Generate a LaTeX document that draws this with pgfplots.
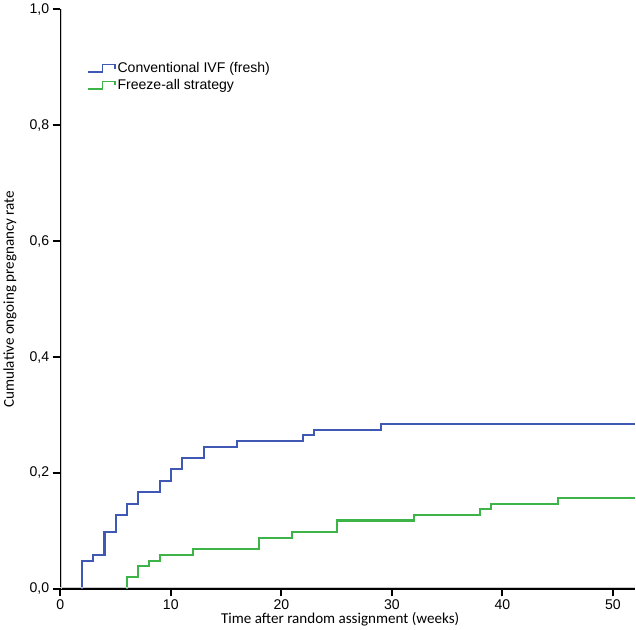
\documentclass[border=0pt]{standalone}
\usepackage{fontspec}
\setmainfont{Liberation Sans}
\newfontfamily\calibri{Carlito}
\usepackage{pgfplots}
\pgfplotsset{compat=1.18}

\definecolor{kmblue}{RGB}{62,88,180}
\definecolor{kmgreen}{RGB}{60,180,72}

\begin{document}
\begin{tikzpicture}
\begin{axis}[
  scale only axis, width=570bp, height=575bp,
  xmin=0, xmax=52, ymin=0, ymax=1,
  axis x line*=bottom, axis y line*=left,
  axis line style={line width=1.3pt, black, -},
  xtick={0,10,20,30,40,50},
  ytick={0,0.2,0.4,0.6,0.8,1.0},
  tick align=outside, major tick length=7.5bp,
  tick style={line width=2pt, black},
  /pgf/number format/assume math mode=true,
  yticklabel style={/pgf/number format/.cd, fixed, fixed zerofill, precision=1, use comma},
  ticklabel style={font=\fontsize{14}{16}\selectfont},
  xlabel={Time after random assignment (weeks)},
  ylabel={Cumulative ongoing pregnancy rate},
  label style={font=\calibri\fontsize{15}{17}\selectfont},
  xlabel style={at={([yshift=-30bp]axis description cs:0.487,0)}, anchor=center},
  ylabel style={at={([xshift=-50bp]axis description cs:0,0.5)}, anchor=center},
  const plot,
  legend cell align=left,
  legend style={draw=none, fill=none, at={(rel axis cs:0,1)}, anchor=north west,
    xshift=26bp, yshift=-51bp, inner sep=0pt, row sep=1bp,
    font=\fontsize{14}{15}\selectfont},
  legend image code/.code={\draw[#1, line width=1.6pt] (0bp,-3.5bp) -- (15bp,-3.5bp) -- (15bp,4bp) -- (27bp,4bp) -- (27bp,0bp);},
  clip=false,
]
\addplot[kmblue, line width=2pt] coordinates {
  (2,0) (2,0.049) (3,0.059) (4,0.098) (5,0.127) (6,0.147) (7,0.167)
  (9,0.186) (10,0.206) (11,0.225) (13,0.245) (16,0.255) (22,0.265)
  (23,0.274) (29,0.284) (52,0.284)
};
\addlegendentry{Conventional IVF (fresh)}
\addplot[kmgreen, line width=2pt] coordinates {
  (6,0) (6,0.020) (7,0.039) (8,0.049) (9,0.059) (12,0.069) (18,0.088)
  (21,0.098) (25,0.118) (32,0.127) (38,0.137) (39,0.147) (45,0.157)
  (52,0.157)
};
\addlegendentry{Freeze-all strategy}
\draw[gray!40, line width=1.2pt] ([xshift=1.6pt]rel axis cs:0,0) -- ([xshift=1.6pt]rel axis cs:0,1);
\draw[gray!40, line width=1.2pt] ([yshift=1.6pt]rel axis cs:0,0) -- ([yshift=1.6pt]rel axis cs:1,0);
\end{axis}
\end{tikzpicture}
\end{document}
